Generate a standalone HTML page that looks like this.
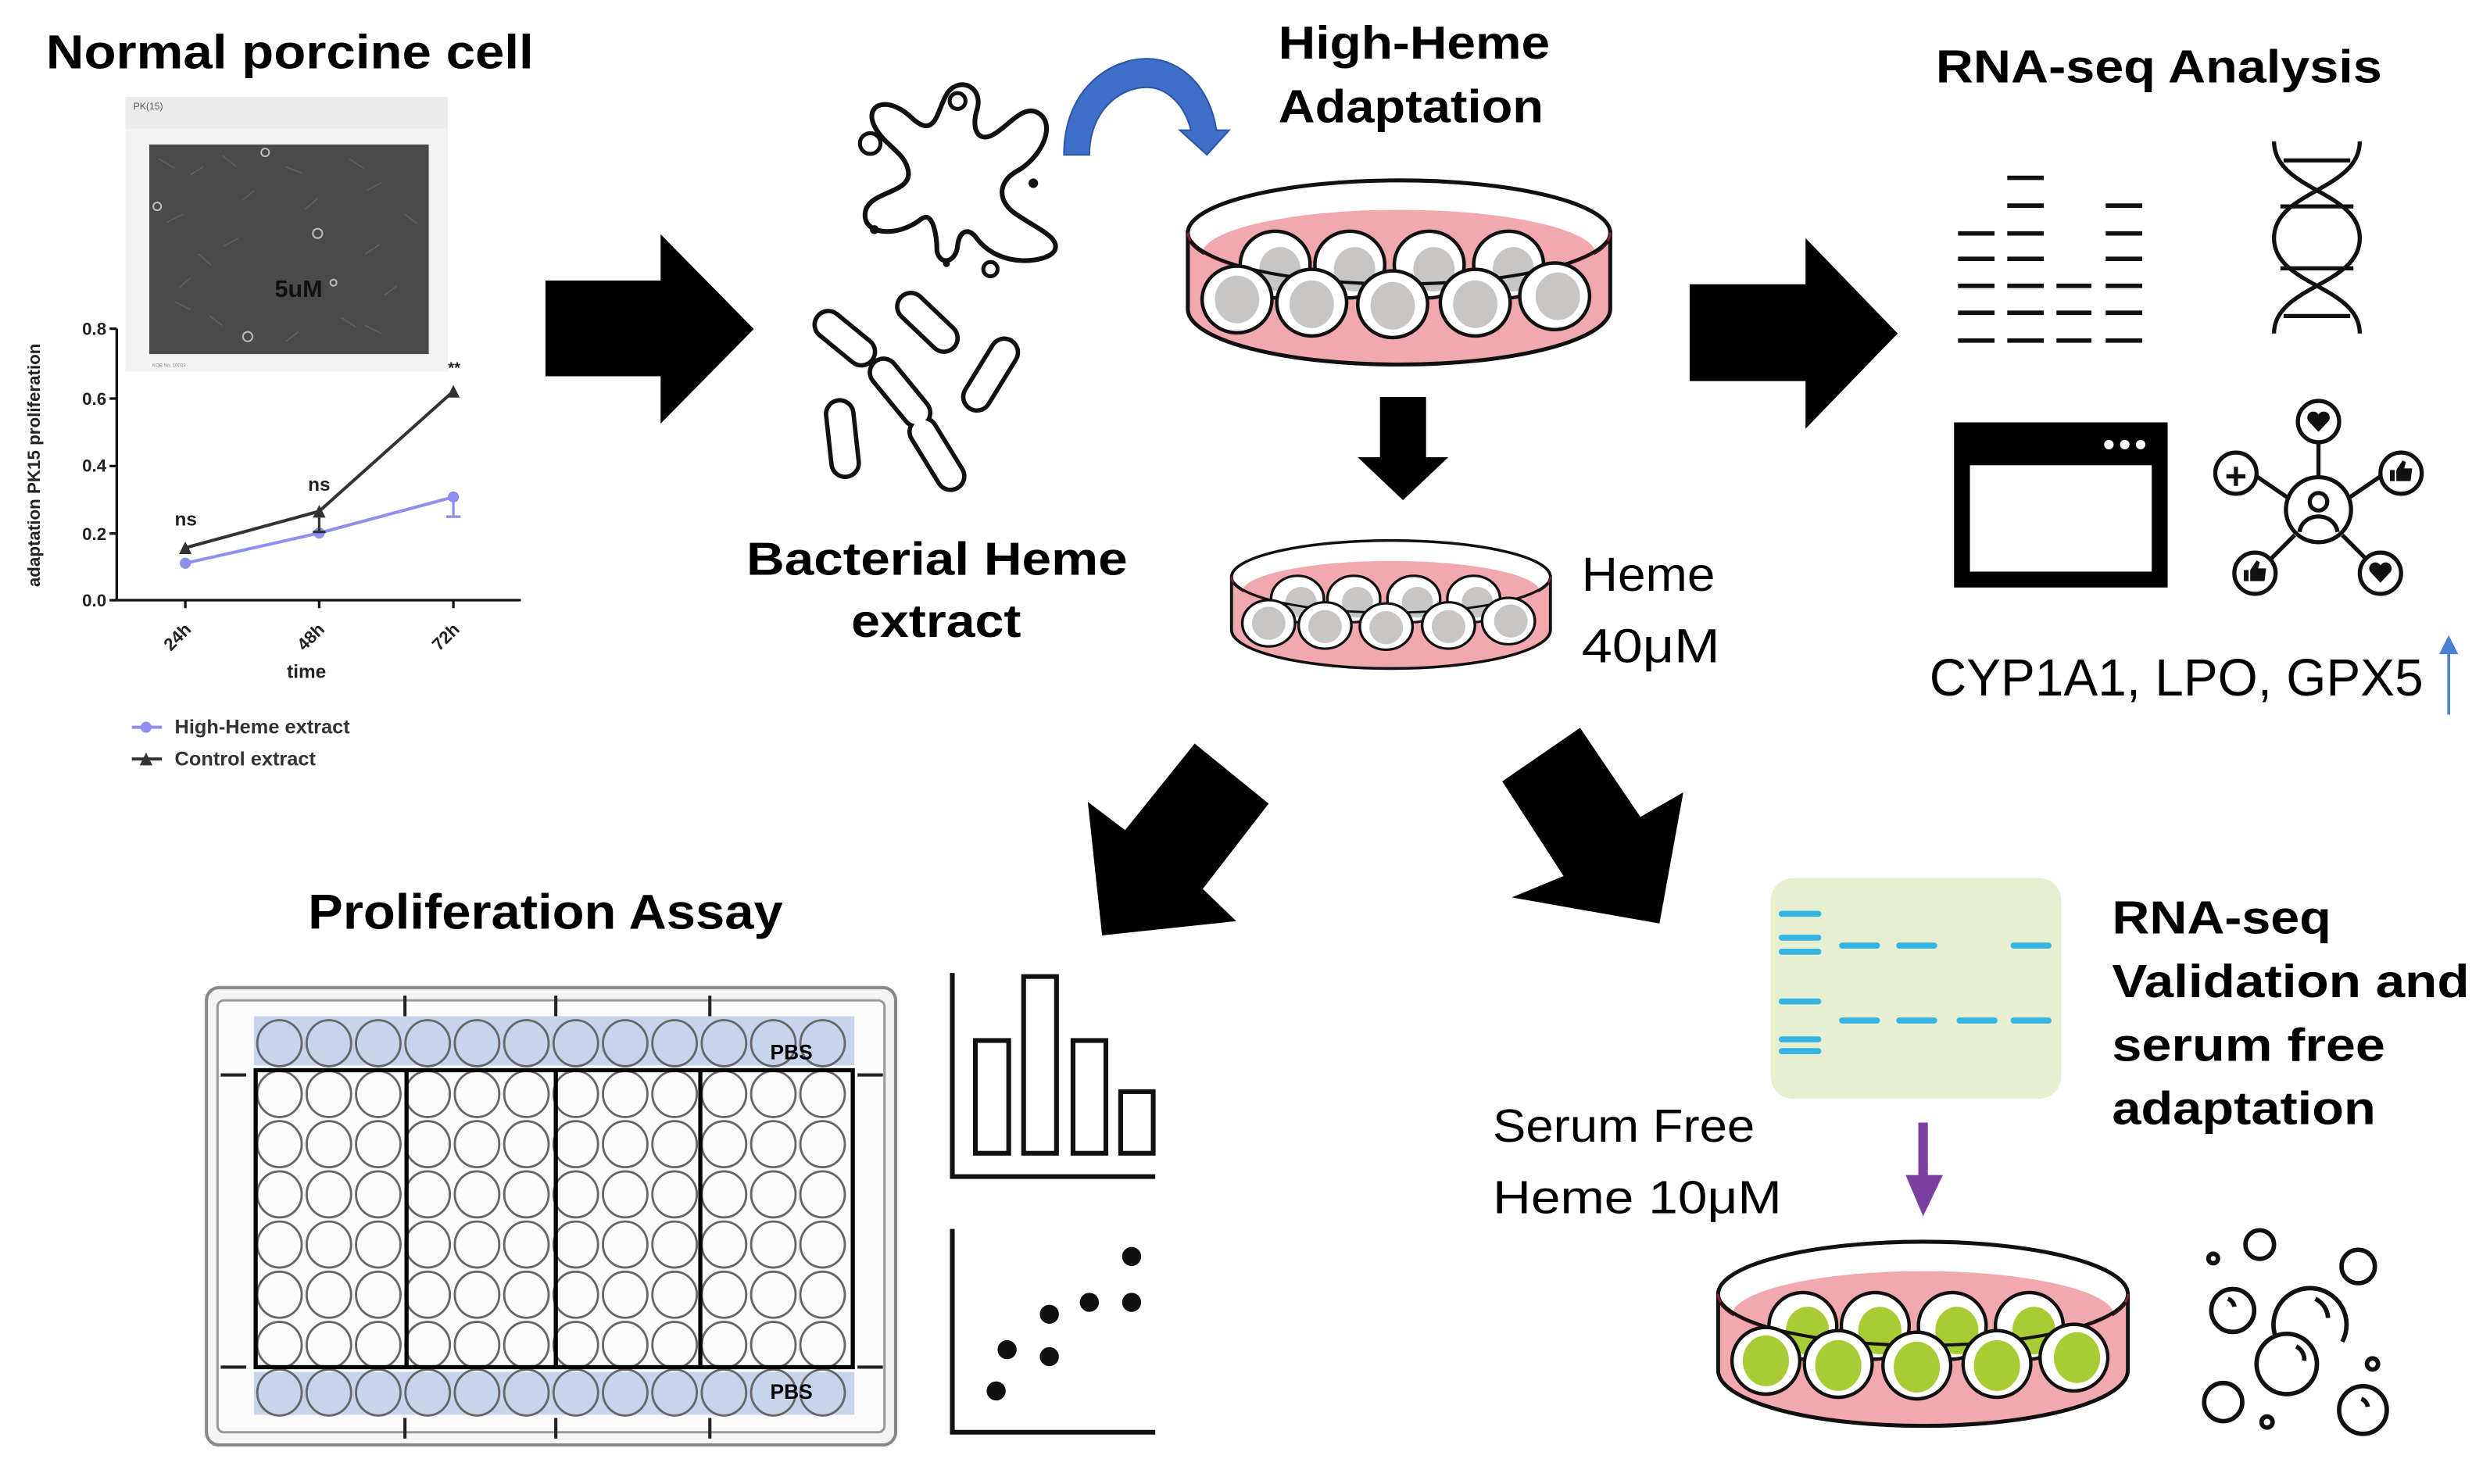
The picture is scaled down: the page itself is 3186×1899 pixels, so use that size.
<!DOCTYPE html>
<html><head><meta charset="utf-8"><style>
html,body{margin:0;padding:0;background:#fff;}
svg{display:block;}
text{font-family:"Liberation Sans",sans-serif;}
.b{font-weight:bold;}
</style></head><body>
<svg width="3186" height="1899" viewBox="0 0 1568 934.6" preserveAspectRatio="none" xmlns="http://www.w3.org/2000/svg">
<defs>
<g id="row">
<ellipse cx="176" cy="0" rx="14" ry="14.5"/><ellipse cx="207.1" cy="0" rx="14" ry="14.5"/><ellipse cx="238.2" cy="0" rx="14" ry="14.5"/><ellipse cx="269.3" cy="0" rx="14" ry="14.5"/><ellipse cx="300.4" cy="0" rx="14" ry="14.5"/><ellipse cx="331.5" cy="0" rx="14" ry="14.5"/><ellipse cx="362.6" cy="0" rx="14" ry="14.5"/><ellipse cx="393.7" cy="0" rx="14" ry="14.5"/><ellipse cx="424.8" cy="0" rx="14" ry="14.5"/><ellipse cx="455.9" cy="0" rx="14" ry="14.5"/><ellipse cx="487" cy="0" rx="14" ry="14.5"/><ellipse cx="518" cy="0" rx="14" ry="14.5"/>
</g>
<g id="dish">
  <path d="M2,35 L2,83 A133,35 0 0 0 268,83 L268,35 Z" fill="#f2a8af" stroke="#111" stroke-width="2.5"/>
  <ellipse cx="135" cy="35" rx="133" ry="33" fill="#fff" stroke="#111" stroke-width="2.5"/>
  <path d="M12,45 A124,28 0 0 1 258,45 L258,70 L12,70 Z" fill="#f2a8af"/>
  <path d="M2,35 A133,33 0 0 0 268,35" fill="none" stroke="#8a2030" stroke-width="1.5"/>
</g>
<g id="cellsGray">
  <g stroke="#111" stroke-width="2.2">
  <ellipse cx="57" cy="55" rx="22" ry="21" fill="#fff"/><ellipse cx="104" cy="55" rx="22" ry="21" fill="#fff"/>
  <ellipse cx="154" cy="55" rx="22" ry="21" fill="#fff"/><ellipse cx="204" cy="55" rx="22" ry="21" fill="#fff"/>
  </g>
  <g fill="#c8c6c4"><ellipse cx="60" cy="58" rx="13" ry="14"/><ellipse cx="107" cy="58" rx="13" ry="14"/><ellipse cx="157" cy="58" rx="13" ry="14"/><ellipse cx="207" cy="58" rx="13" ry="14"/></g>
  <path d="M4,40 A133,33 0 0 0 266,40" fill="none" stroke="#111" stroke-width="2"/>
  <g stroke="#111" stroke-width="2.2" fill="#fff">
  <ellipse cx="33" cy="77" rx="22" ry="21"/><ellipse cx="80" cy="79" rx="22" ry="21"/><ellipse cx="131" cy="80" rx="22" ry="21"/><ellipse cx="183" cy="79" rx="22" ry="21"/><ellipse cx="233" cy="75" rx="22" ry="21"/>
  </g>
  <g fill="#c8c6c4"><ellipse cx="33" cy="77" rx="14" ry="15"/><ellipse cx="80" cy="80" rx="14" ry="15"/><ellipse cx="131" cy="81" rx="14" ry="15"/><ellipse cx="183" cy="80" rx="14" ry="15"/><ellipse cx="235" cy="75" rx="14" ry="15"/></g>
</g>
<g id="cellsGreen">
  <g stroke="#111" stroke-width="2.2">
  <ellipse cx="57" cy="55" rx="22" ry="21" fill="#fff"/><ellipse cx="104" cy="55" rx="22" ry="21" fill="#fff"/>
  <ellipse cx="154" cy="55" rx="22" ry="21" fill="#fff"/><ellipse cx="204" cy="55" rx="22" ry="21" fill="#fff"/>
  </g>
  <g fill="#a9cc34"><ellipse cx="60" cy="58" rx="14" ry="15"/><ellipse cx="107" cy="58" rx="14" ry="15"/><ellipse cx="157" cy="58" rx="14" ry="15"/><ellipse cx="207" cy="58" rx="14" ry="15"/></g>
  <path d="M4,40 A133,33 0 0 0 266,40" fill="none" stroke="#111" stroke-width="2"/>
  <g stroke="#111" stroke-width="2.2" fill="#fff">
  <ellipse cx="33" cy="77" rx="22" ry="21"/><ellipse cx="80" cy="79" rx="22" ry="21"/><ellipse cx="131" cy="80" rx="22" ry="21"/><ellipse cx="183" cy="79" rx="22" ry="21"/><ellipse cx="233" cy="75" rx="22" ry="21"/>
  </g>
  <g fill="#a9cc34"><ellipse cx="33" cy="77" rx="15" ry="16"/><ellipse cx="80" cy="80" rx="15" ry="16"/><ellipse cx="131" cy="81" rx="15" ry="16"/><ellipse cx="183" cy="80" rx="15" ry="16"/><ellipse cx="235" cy="75" rx="15" ry="16"/></g>
</g>
</defs>

<!-- Titles -->
<text x="29" y="43" class="b" font-size="30" textLength="307" lengthAdjust="spacingAndGlyphs">Normal porcine cell</text>
<text x="805" y="37" class="b" font-size="29" textLength="171" lengthAdjust="spacingAndGlyphs">High-Heme</text>
<text x="805" y="77" class="b" font-size="29" textLength="167" lengthAdjust="spacingAndGlyphs">Adaptation</text>
<text x="1219" y="52" class="b" font-size="29" textLength="281" lengthAdjust="spacingAndGlyphs">RNA-seq Analysis</text>
<text x="470" y="362" class="b" font-size="29" textLength="240" lengthAdjust="spacingAndGlyphs">Bacterial Heme</text>
<text x="536" y="401" class="b" font-size="29" textLength="107" lengthAdjust="spacingAndGlyphs">extract</text>
<text x="194" y="585" class="b" font-size="31" textLength="299" lengthAdjust="spacingAndGlyphs">Proliferation Assay</text>
<text x="1330" y="588" class="b" font-size="29" textLength="138" lengthAdjust="spacingAndGlyphs">RNA-seq</text>
<text x="1330" y="628" class="b" font-size="29" textLength="225" lengthAdjust="spacingAndGlyphs">Validation and</text>
<text x="1330" y="668" class="b" font-size="29" textLength="172" lengthAdjust="spacingAndGlyphs">serum free</text>
<text x="1330" y="708" class="b" font-size="29" textLength="166" lengthAdjust="spacingAndGlyphs">adaptation</text>
<text x="996" y="372" font-size="30" textLength="84" lengthAdjust="spacingAndGlyphs">Heme</text>
<text x="996" y="417" font-size="30" textLength="87" lengthAdjust="spacingAndGlyphs">40μM</text>
<text x="940" y="719" font-size="29" textLength="165" lengthAdjust="spacingAndGlyphs">Serum Free</text>
<text x="940" y="764" font-size="29" textLength="182" lengthAdjust="spacingAndGlyphs">Heme 10μM</text>
<text x="1215" y="438" font-size="33" textLength="311" lengthAdjust="spacingAndGlyphs">CYP1A1, LPO, GPX5</text>
<line x1="1542" y1="450" x2="1542" y2="410" stroke="#4a7fd4" stroke-width="1.8"/>
<polygon points="1536,412 1548,412 1542,400" fill="#4a7fd4"/>

<!-- Micrograph panel -->
<rect x="79" y="61" width="203" height="173" fill="#f3f3f3"/>
<rect x="79" y="61" width="203" height="20" fill="#ebebeb"/>
<text x="84" y="69" font-size="6" fill="#555">PK(15)</text>
<rect x="94" y="91" width="176" height="132" fill="#4a4a4a"/>
<g fill="none" stroke="#666" stroke-width="0.8" opacity="0.8">
<path d="M100,100 l10,6 M120,110 l8,-5 M140,98 l9,7 M160,120 l-7,6 M180,105 l10,4 M200,125 l-8,7 M220,100 l9,6 M240,115 l-9,5 M255,135 l8,6 M105,140 l10,-5 M125,160 l8,7 M150,150 l-9,5 M230,160 l9,-6 M250,180 l-8,6 M110,190 l10,5 M140,205 l-8,-6 M215,200 l9,6 M240,210 l-10,-5 M180,215 l8,-6 M120,175 l-7,6"/>
</g>
<g fill="none" stroke="#bbb" stroke-width="1"><circle cx="167" cy="96" r="2.5"/><circle cx="99" cy="130" r="2.5"/><circle cx="200" cy="147" r="3"/><circle cx="156" cy="212" r="3"/><circle cx="210" cy="178" r="2"/></g>
<text x="188" y="187" class="b" font-size="15" text-anchor="middle" fill="#111">5uM</text>
<text x="96" y="231" font-size="3" fill="#888">KOB No.        10033</text>

<!-- Chart -->
<g stroke="#111" stroke-width="1.6" fill="none">
<line x1="73.5" y1="207" x2="73.5" y2="378"/><line x1="73.5" y1="378" x2="328" y2="378"/>
<line x1="69" y1="207" x2="73.5" y2="207"/><line x1="69" y1="251" x2="73.5" y2="251"/><line x1="69" y1="293.5" x2="73.5" y2="293.5"/><line x1="69" y1="336" x2="73.5" y2="336"/><line x1="69" y1="378" x2="73.5" y2="378"/>
<line x1="116.7" y1="378" x2="116.7" y2="383"/><line x1="201" y1="378" x2="201" y2="383"/><line x1="285.5" y1="378" x2="285.5" y2="383"/>
</g>
<g font-size="11" class="b" text-anchor="end" fill="#222">
<text x="67" y="211">0.8</text><text x="67" y="255">0.6</text><text x="67" y="297">0.4</text><text x="67" y="340">0.2</text><text x="67" y="382">0.0</text>
</g>
<g font-size="11" class="b" fill="#222">
<text transform="translate(121,397) rotate(-45)" text-anchor="end">24h</text>
<text transform="translate(205,397) rotate(-45)" text-anchor="end">48h</text>
<text transform="translate(290,397) rotate(-45)" text-anchor="end">72h</text>
<text x="193" y="427" text-anchor="middle" font-size="12">time</text>
<text transform="translate(25,293) rotate(-90)" text-anchor="middle" font-size="11">adaptation PK15 proliferation</text>
<text x="117" y="331" text-anchor="middle" font-size="12">ns</text>
<text x="201" y="309" text-anchor="middle" font-size="12">ns</text>
<text x="286" y="235" text-anchor="middle" font-size="10">**</text>
</g>
<polyline points="116.7,354.7 201,335.7 285.5,313" fill="none" stroke="#8f8ff0" stroke-width="2"/>
<line x1="285.5" y1="313" x2="285.5" y2="325.4" stroke="#8f8ff0" stroke-width="1.6"/><line x1="281" y1="325.4" x2="290" y2="325.4" stroke="#8f8ff0" stroke-width="1.6"/>
<g fill="#8f8ff0"><circle cx="116.7" cy="354.7" r="3.5"/><circle cx="201" cy="335.7" r="3.5"/><circle cx="285.5" cy="313" r="3.5"/></g>
<polyline points="116.7,345 201,322 285.5,246.4" fill="none" stroke="#333" stroke-width="2"/>
<line x1="201" y1="322" x2="201" y2="335" stroke="#333" stroke-width="1.6"/><line x1="197" y1="335" x2="205" y2="335" stroke="#333" stroke-width="1.6"/>
<g fill="#333"><polygon points="112.7,349 120.7,349 116.7,341"/><polygon points="197,326 205,326 201,318"/><polygon points="281.5,250.4 289.5,250.4 285.5,242.4"/></g>
<line x1="83" y1="458" x2="102" y2="458" stroke="#8f8ff0" stroke-width="2"/><circle cx="92" cy="458" r="3.5" fill="#8f8ff0"/>
<line x1="83" y1="478" x2="102" y2="478" stroke="#333" stroke-width="2"/><polygon points="88,482 96,482 92,474" fill="#333"/>
<text x="110" y="462" font-size="12.5" class="b" fill="#333">High-Heme extract</text>
<text x="110" y="482" font-size="12.5" class="b" fill="#333">Control extract</text>

<!-- Big arrows -->
<polygon points="343.5,176.7 416,176.7 416,147.5 474.7,207.2 416,266.8 416,237 343.5,237" fill="#000"/>
<polygon points="1064,179 1137,179 1137,150 1195,210 1137,270 1137,240 1064,240" fill="#000"/>
<polygon points="869,250 898,250 898,288 912,288 883.5,315 855,288 869,288" fill="#000"/>
<polygon points="752.3,468.3 798.9,506.1 757.4,559.8 778.5,580.1 694,589.1 685,505 708.5,522.8" fill="#000"/>
<polygon points="995,458.4 1033,514.5 1060,499 1045,581.6 952,565.2 984.6,551.7 946,492.1" fill="#000"/>

<!-- Blue curved arrow -->
<path d="M670,97.5 C670,55 700,37 722,37 C744,37 762,55 766,82 L774,82 L760,97.5 L743,82 L750,82 C746,66 735,55 722,55 C705,55 686,70 686,97.5 Z" fill="#3f6fc6" stroke="#2a55a8" stroke-width="1"/>

<!-- Splat -->
<path d="M575,75 C560,60 545,65 550,78 C556,92 570,95 572,108 C574,122 548,120 545,133 C542,148 565,150 580,138 C588,132 590,150 590,158 C592,168 602,165 603,155 C604,145 610,143 615,150 C630,170 660,165 664,158 C668,150 655,145 640,135 C628,127 628,115 640,108 C655,100 665,80 655,72 C645,64 635,80 625,85 C615,90 612,80 615,70 C620,55 605,48 597,58 C590,68 590,88 575,75 Z" fill="none" stroke="#111" stroke-width="3"/>
<g fill="none" stroke="#111" stroke-width="2.5"><circle cx="548" cy="90.4" r="6.5"/><circle cx="603" cy="63.6" r="5"/><circle cx="623.7" cy="169.5" r="4.5"/></g>
<g fill="#111"><circle cx="650.7" cy="115.4" r="3"/><circle cx="550.6" cy="144.6" r="2.8"/><circle cx="596" cy="166" r="2.2"/></g>
<!-- rods -->
<g stroke-linecap="round" fill="none">
<g stroke="#111" stroke-width="20">
<line x1="521.6" y1="204.5" x2="542.4" y2="221.5"/><line x1="573.6" y1="193.1" x2="594.4" y2="212.9"/>
<line x1="615.2" y1="249.9" x2="632.4" y2="221.9"/><line x1="556.4" y1="234.5" x2="577.2" y2="259.9"/>
<line x1="528.8" y1="260.7" x2="532.2" y2="291.7"/><line x1="581.4" y1="271.9" x2="598.6" y2="299.9"/>
</g>
<g stroke="#fff" stroke-width="14.5">
<line x1="521.6" y1="204.5" x2="542.4" y2="221.5"/><line x1="573.6" y1="193.1" x2="594.4" y2="212.9"/>
<line x1="615.2" y1="249.9" x2="632.4" y2="221.9"/><line x1="556.4" y1="234.5" x2="577.2" y2="259.9"/>
<line x1="528.8" y1="260.7" x2="532.2" y2="291.7"/><line x1="581.4" y1="271.9" x2="598.6" y2="299.9"/>
</g>
</g>

<!-- Dishes -->
<g transform="translate(746,111.6)"><use href="#dish"/><use href="#cellsGray"/></g>
<g transform="translate(774,339) scale(0.755,0.695)"><use href="#dish"/><use href="#cellsGray"/></g>
<g transform="translate(1080,780) scale(0.97,1.0)"><use href="#dish"/><use href="#cellsGreen"/></g>

<!-- RNA-seq icons -->
<g stroke="#111" stroke-width="2.8">
<line x1="1233" y1="147" x2="1256" y2="147"/><line x1="1233" y1="163" x2="1256" y2="163"/><line x1="1233" y1="180" x2="1256" y2="180"/><line x1="1233" y1="197" x2="1256" y2="197"/><line x1="1233" y1="214.5" x2="1256" y2="214.5"/>
<line x1="1264" y1="112" x2="1287" y2="112"/><line x1="1264" y1="129.5" x2="1287" y2="129.5"/><line x1="1264" y1="147" x2="1287" y2="147"/><line x1="1264" y1="163" x2="1287" y2="163"/><line x1="1264" y1="180" x2="1287" y2="180"/><line x1="1264" y1="197" x2="1287" y2="197"/><line x1="1264" y1="214.5" x2="1287" y2="214.5"/>
<line x1="1295" y1="180" x2="1317" y2="180"/><line x1="1295" y1="197" x2="1317" y2="197"/><line x1="1295" y1="214.5" x2="1317" y2="214.5"/>
<line x1="1326" y1="129.5" x2="1349" y2="129.5"/><line x1="1326" y1="147" x2="1349" y2="147"/><line x1="1326" y1="163" x2="1349" y2="163"/><line x1="1326" y1="180" x2="1349" y2="180"/><line x1="1326" y1="197" x2="1349" y2="197"/><line x1="1326" y1="214.5" x2="1349" y2="214.5"/>
</g>
<g fill="none" stroke="#111" stroke-width="2.6">
<path d="M1432,89 C1432,120 1486,120 1486,150 C1486,180 1432,180 1432,210"/>
<path d="M1486,89 C1486,120 1432,120 1432,150 C1432,180 1486,180 1486,210"/>
<line x1="1438" y1="101" x2="1480" y2="101"/><line x1="1436" y1="130" x2="1482" y2="130"/><line x1="1436" y1="169" x2="1482" y2="169"/><line x1="1438" y1="199" x2="1480" y2="199"/>
</g>
<rect x="1230.5" y="266" width="134.5" height="104" fill="#000"/>
<rect x="1240.5" y="293" width="114.5" height="67" fill="#fff"/>
<g fill="#fff"><circle cx="1328" cy="280" r="3"/><circle cx="1338" cy="280" r="3"/><circle cx="1348" cy="280" r="3"/></g>
<g stroke="#111" stroke-width="2.6" fill="none">
<line x1="1460" y1="279" x2="1460" y2="300"/><line x1="1421" y1="300" x2="1440" y2="313"/><line x1="1499" y1="300" x2="1480" y2="313"/>
<line x1="1430" y1="352" x2="1445" y2="337"/><line x1="1490" y1="352" x2="1475" y2="337"/>
<circle cx="1460" cy="321" r="20.5"/><circle cx="1460" cy="265.5" r="13"/><circle cx="1408" cy="298" r="13"/><circle cx="1512" cy="298" r="13"/><circle cx="1420" cy="361" r="13"/><circle cx="1499" cy="361" r="13"/>
<circle cx="1460" cy="316" r="5.5"/><path d="M1448,335 C1450,322 1470,322 1472,335"/>
<line x1="1402" y1="300" x2="1414" y2="300"/><line x1="1408" y1="294" x2="1408" y2="306"/>
</g>
<g fill="#111">
<path d="M1460,272 L1453.5,265 A3.5,3.5 0 0 1 1460,261 A3.5,3.5 0 0 1 1466.5,265 Z"/>
<path d="M1499,367 L1492.5,360 A3.5,3.5 0 0 1 1499,356 A3.5,3.5 0 0 1 1505.5,360 Z"/>
<rect x="1505" y="296" width="3" height="7"/><path d="M1509,296 L1513,290 L1515,291 L1514,295 L1519,295 L1518,303 L1509,303 Z"/>
<rect x="1413" y="359" width="3" height="7"/><path d="M1417,359 L1421,353 L1423,354 L1422,358 L1427,358 L1426,366 L1417,366 Z"/>
</g>

<!-- Plate -->
<rect x="130" y="622" width="434" height="288" rx="8" fill="#f4f4f4" stroke="#888" stroke-width="2"/>
<rect x="137" y="630" width="420" height="272" rx="4" fill="#fbfbfb" stroke="#999" stroke-width="1.5"/>
<rect x="160" y="640" width="378" height="31" fill="#c8d4ec"/>
<rect x="160" y="864" width="378" height="27" fill="#c8d4ec"/>
<g fill="none" stroke="#666" stroke-width="1.4">
<use href="#row" transform="translate(0,657)"/><use href="#row" transform="translate(0,689)"/><use href="#row" transform="translate(0,720.6)"/><use href="#row" transform="translate(0,752.2)"/><use href="#row" transform="translate(0,783.8)"/><use href="#row" transform="translate(0,815.4)"/><use href="#row" transform="translate(0,847)"/><use href="#row" transform="translate(0,877)"/>
</g>
<g fill="none" stroke="#000" stroke-width="2.6">
<rect x="161" y="674" width="376" height="187"/>
<line x1="256" y1="674" x2="256" y2="861"/><line x1="350" y1="674" x2="350" y2="861"/><line x1="441" y1="674" x2="441" y2="861"/>
</g>
<g stroke="#222" stroke-width="2"><line x1="139" y1="677" x2="155" y2="677"/><line x1="139" y1="861" x2="155" y2="861"/><line x1="540" y1="677" x2="556" y2="677"/><line x1="540" y1="861" x2="556" y2="861"/>
<line x1="255" y1="627" x2="255" y2="640"/><line x1="350" y1="627" x2="350" y2="640"/><line x1="447" y1="627" x2="447" y2="640"/>
<line x1="255" y1="893" x2="255" y2="906"/><line x1="350" y1="893" x2="350" y2="906"/><line x1="447" y1="893" x2="447" y2="906"/></g>
<text x="485" y="667" class="b" font-size="13">PBS</text>
<text x="485" y="881" class="b" font-size="13">PBS</text>

<!-- Bar chart & scatter -->
<g fill="none" stroke="#111" stroke-width="3">
<polyline points="599.7,612.8 599.7,741 727.5,741"/>
<rect x="614.2" y="655.3" width="21" height="71"/><rect x="644.6" y="615" width="20.7" height="111.3"/><rect x="675.7" y="655.3" width="20.7" height="71"/><rect x="705.7" y="687.5" width="20.5" height="38.8"/>
<polyline points="599.7,774 599.7,902 727.5,902"/>
</g>
<g fill="#111"><circle cx="627.3" cy="876" r="6"/><circle cx="634.2" cy="850" r="6"/><circle cx="660.8" cy="854.4" r="6"/><circle cx="660.8" cy="827.7" r="6"/><circle cx="686" cy="820.2" r="6"/><circle cx="712.6" cy="820.2" r="6"/><circle cx="712.6" cy="791.3" r="6"/></g>

<!-- Gel -->
<rect x="1115" y="553" width="183" height="139" rx="14" fill="#e6efd2"/>
<g stroke="#36b5e0" stroke-width="3.8" stroke-linecap="round">
<line x1="1122" y1="575.5" x2="1145" y2="575.5"/><line x1="1122" y1="590.5" x2="1145" y2="590.5"/><line x1="1122" y1="599.4" x2="1145" y2="599.4"/><line x1="1122" y1="630.7" x2="1145" y2="630.7"/><line x1="1122" y1="654.6" x2="1145" y2="654.6"/><line x1="1122" y1="662" x2="1145" y2="662"/>
<line x1="1160" y1="595.5" x2="1182" y2="595.5"/><line x1="1196" y1="595.5" x2="1218" y2="595.5"/><line x1="1268" y1="595.5" x2="1290" y2="595.5"/>
<line x1="1160" y1="642.7" x2="1182" y2="642.7"/><line x1="1196" y1="642.7" x2="1218" y2="642.7"/><line x1="1234" y1="642.7" x2="1256" y2="642.7"/><line x1="1268" y1="642.7" x2="1290" y2="642.7"/>
</g>
<polygon points="1208,707 1214,707 1214,740 1223.5,740 1211,766 1200,740 1208,740" fill="#7b3fa0"/>

<!-- Bubbles -->
<g fill="none" stroke="#111" stroke-width="2.8">
<circle cx="1423" cy="783.8" r="9"/><circle cx="1393.7" cy="792.6" r="3"/><circle cx="1485" cy="797.6" r="10.5"/><circle cx="1406" cy="825.3" r="13.5"/>
<path d="M1433,842 A23,23 0 1 1 1475,845"/><circle cx="1440" cy="859" r="19"/><circle cx="1494" cy="859" r="3.5"/><circle cx="1400" cy="883" r="12"/><circle cx="1427.6" cy="895.6" r="3.5"/><circle cx="1488" cy="888" r="15"/>
<path d="M1403,818 A6,6 0 0 1 1407,823"/><path d="M1446,848 A9,9 0 0 1 1451,857"/><path d="M1458,818 A14,14 0 0 1 1466,830"/><path d="M1487,881 A6,6 0 0 1 1491,886"/>
</g>
</svg>
</body></html>
